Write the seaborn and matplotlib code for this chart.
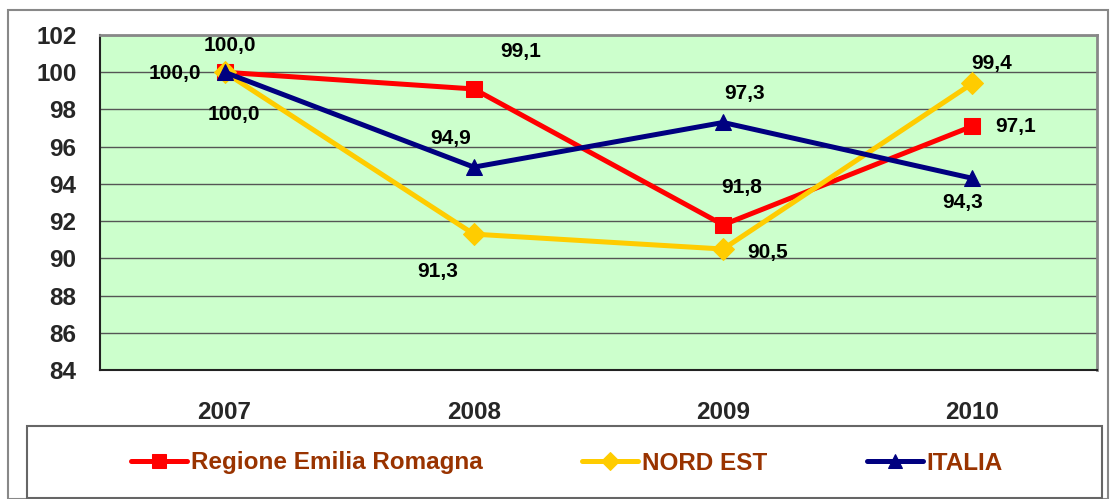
import matplotlib
matplotlib.use("Agg")
import matplotlib.pyplot as plt
import seaborn as sns
import pandas as pd
from matplotlib.patches import Rectangle

years = ["2007", "2008", "2009", "2010"]
emilia = [100.0, 99.1, 91.8, 97.1]
nord_est = [100.0, 91.3, 90.5, 99.4]
italia = [100.0, 94.9, 97.3, 94.3]
series_names = ["Regione Emilia Romagna", "NORD EST", "ITALIA"]
colors = ["#FF0000", "#FFCC00", "#000080"]
markers = ["s", "D", "^"]

sns.set_theme(style="white")
plt.rcParams['font.family'] = ['Liberation Sans', 'DejaVu Sans']

fig = plt.figure(figsize=(11.1, 4.99), dpi=100)
ax = fig.add_axes([100/1110, 1-370/499, 997/1110, 335/499])
ax.set_facecolor("#CCFFCC")

df = pd.DataFrame({
    "x": list(range(4)) * 3,
    "value": emilia + nord_est + italia,
    "serie": sum([[n] * 4 for n in series_names], []),
})

msizes = [12, 11, 12]
for name, col, mk, ms in zip(series_names, colors, markers, msizes):
    sub = df[df["serie"] == name]
    sns.lineplot(data=sub, x="x", y="value", color=col, marker=mk, markersize=ms,
                 markeredgecolor=col, linewidth=3.6, ax=ax, label=name, legend=False)

ax.set_xlim(-0.5, 3.5)
ax.set_ylim(84, 102)
ax.set_yticks(range(84, 103, 2))
ax.set_xticks(range(4))
ax.set_xticklabels(years)
ax.set_xticks([-0.5, 0.5, 1.5, 2.5, 3.5], minor=True)
ax.tick_params(axis="x", which="major", length=0, pad=22, labelsize=17.5)
ax.tick_params(axis="x", which="minor", length=5, color="#808080", width=1, direction="out")
ax.tick_params(axis="y", length=5, color="#333333", width=1, direction="out", pad=12, labelsize=17.5)
for lab in ax.get_xticklabels() + ax.get_yticklabels():
    lab.set_fontweight("bold")
ax.set_xlabel("")
ax.set_ylabel("")
ax.grid(axis="y", color="#555555", linewidth=1)
ax.set_axisbelow(True)
for s in ["left", "bottom"]:
    ax.spines[s].set_color("#222222")
    ax.spines[s].set_linewidth(1.5)
for s in ["top", "right"]:
    ax.spines[s].set_color("#888888")
    ax.spines[s].set_linewidth(2)

def fmt(v):
    return f"{v:.1f}".replace(".", ",")

# label offsets (pixels) per series and category
offsets = {
    0: [(5, 27), (47, 37), (19, 37), (43, 0)],
    1: [(9, -42), (-36, -37), (45, -3), (19, 20)],
    2: [(-50, -1), (-23, 29), (21, 29), (-10, -24)],
}
vals = [emilia, nord_est, italia]
for si, series in enumerate(vals):
    for i, v in enumerate(series):
        dx, dy = offsets[si][i]
        ax.annotate(fmt(v), (i, v), xytext=(dx * 0.72, dy * 0.72), textcoords="offset points",
                    ha="center", va="center", fontsize=15, fontweight="bold", color="black")

# outer frame and legend box
fig.patches.append(Rectangle((8/1110, 0), 1100/1110, 1-10/499, transform=fig.transFigure,
                             fill=False, edgecolor="#888888", linewidth=1.5))
fig.patches.append(Rectangle((27/1110, 1/499), 1075/1110, 72/499, transform=fig.transFigure,
                             fill=False, edgecolor="#666666", linewidth=1.5))

handles, labels = ax.get_legend_handles_labels()
leg = fig.legend(handles, labels, loc="center", bbox_to_anchor=(567/1110, 1-463/499),
                 ncol=3, frameon=False, handlelength=2.3, columnspacing=4.1,
                 handletextpad=0.15, markerscale=0.8, prop={"weight": "bold", "size": 17.5})
for t in leg.get_texts():
    t.set_color("#993300")

fig.savefig("out.png", dpi=100)
